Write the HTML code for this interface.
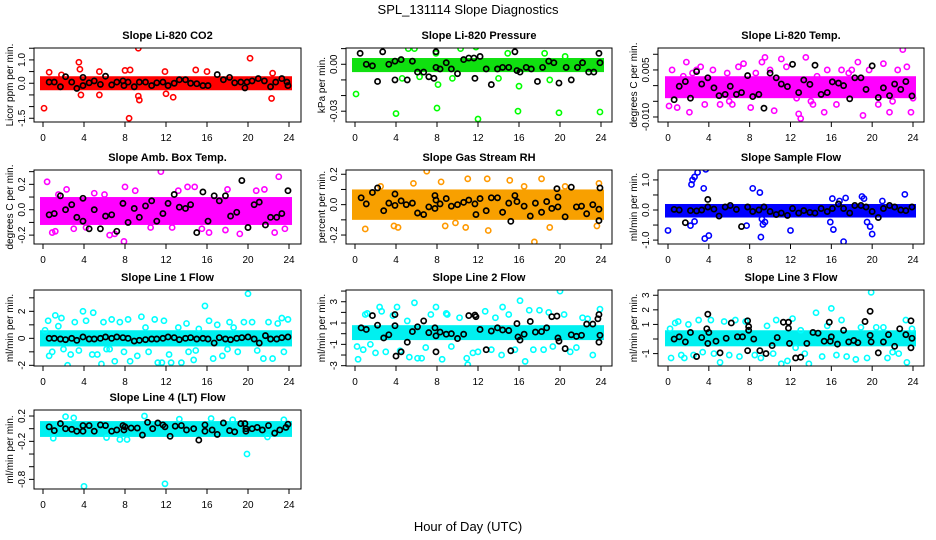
<!DOCTYPE html>
<html><head><meta charset="utf-8"><style>
html,body{margin:0;padding:0;background:#fff;}
svg{display:block;font-family:"Liberation Sans",sans-serif;}
</style></head><body>
<svg id="chart" width="936" height="540" viewBox="0 0 936 540">
<rect x="0" y="0" width="936" height="540" fill="#fff"/>
<text x="468" y="14" text-anchor="middle" font-size="13">SPL_131114  Slope Diagnostics</text>
<text x="468" y="531" text-anchor="middle" font-size="13">Hour of Day (UTC)</text>
</svg>
<script>
// ---------- data ----------
const xTicks = [0,4,8,12,16,20,24];
const co2Band = [-0.3, 0.3];
const co2Outliers = [[0.1,-1.07],[0.6,0.47],[3.5,0.9],[3.6,0.6],[5.5,0.5],[5.5,-0.5],[8.0,0.55],[8.5,0.57],[8.4,-1.5],[9.3,1.5],[9.3,-0.55],[9.4,-0.72],[12.0,-0.45],[12.7,-0.6],[14.9,0.57],[20.2,1.07],[22.3,-0.65],[22.4,0.43],[1.8,0.36],[3.7,-0.5],[11.9,0.5],[16.0,0.5]];
const co2Black = [[0.6,0.05],[1.1,0.05],[1.7,-0.15],[2.2,0.28],[2.8,0.05],[3.3,-0.22],[3.9,0.25],[3.9,-0.1],[4.5,0.02],[5.0,0.1],[5.6,-0.05],[6.1,0.3],[6.7,-0.07],[7.2,0.05],[7.8,0.1],[7.9,-0.1],[8.3,0.05],[8.9,-0.15],[9.4,0.05],[10.0,0.05],[10.6,-0.1],[11.1,0.02],[11.7,0.05],[12.2,-0.1],[12.8,0.0],[13.3,0.15],[13.9,0.15],[14.4,0.0],[15.0,-0.02],[15.6,-0.1],[16.1,-0.1],[17.0,0.37],[17.6,0.15],[18.2,0.25],[18.7,0.02],[19.3,0.05],[19.7,-0.2],[19.9,0.05],[20.4,0.1],[21.0,0.2],[21.6,0.1],[22.2,-0.15],[22.7,0.05],[23.3,0.2],[23.9,-0.1],[23.8,0.05]];

const presBand = [-0.005, 0.004];
const presOutliers = [[0.1,-0.019],[4.0,-0.0315],[8.0,-0.028],[8.1,-0.013],[12.0,-0.035],[15.9,-0.030],[16.0,-0.014],[19.9,-0.031],[23.9,-0.0305],[5.2,0.01],[5.8,0.01],[10.3,0.01],[11.8,0.011],[7.9,0.007],[14.9,0.007],[18.5,0.007],[20.5,0.005],[9.5,-0.009],[4.6,-0.009],[6.3,-0.008],[19.0,-0.01],[14.0,-0.009]];
const presBlack = [[0.5,0.007],[1.1,0.0],[1.7,-0.001],[2.2,-0.011],[2.7,0.008],[3.3,0.0],[3.9,-0.010],[3.9,0.002],[4.5,0.003],[5.1,-0.010],[5.6,0.002],[6.1,-0.005],[6.7,-0.005],[7.2,-0.008],[7.7,-0.009],[7.9,0.008],[7.9,-0.002],[8.3,-0.003],[8.9,0.001],[9.4,-0.003],[10.0,-0.006],[10.6,0.003],[11.1,0.004],[11.6,0.004],[11.7,-0.009],[12.2,0.005],[12.8,-0.003],[13.3,-0.013],[13.9,-0.003],[14.4,-0.002],[15.0,-0.002],[15.6,0.008],[15.8,-0.004],[16.1,-0.005],[16.7,-0.002],[17.2,-0.003],[17.8,-0.011],[18.3,-0.002],[18.9,0.002],[19.4,0.001],[19.9,-0.012],[20.6,-0.002],[21.1,-0.010],[21.7,-0.002],[22.2,0.001],[22.8,-0.005],[23.3,-0.005],[23.8,0.007],[23.9,0.001]];

const tempBand = [-0.004, 0.003];
const tempOutliers = [[0.1,-0.0065],[0.4,0.005],[0.9,-0.007],[1.5,0.003],[1.8,0.0075],[2.1,-0.0085],[2.8,0.005],[3.2,0.006],[3.6,-0.006],[4.4,0.005],[5.1,-0.006],[5.8,0.004],[6.3,-0.006],[6.9,0.006],[7.4,0.007],[8.1,-0.007],[8.6,0.004],[9.2,0.0075],[9.5,0.009],[10.4,-0.008],[11.1,0.0085],[11.6,0.006],[12.6,-0.004],[12.8,-0.009],[13.0,-0.0105],[13.5,0.009],[14.2,-0.006],[14.6,0.003],[15.3,-0.0085],[15.6,0.005],[16.5,-0.006],[17.0,0.005],[17.7,0.004],[18.6,0.0075],[19.1,-0.0095],[19.7,0.005],[20.6,-0.006],[21.1,0.007],[21.7,-0.0085],[22.5,0.005],[23.0,0.0115],[23.4,0.006],[23.8,-0.0085],[24.0,-0.004],[2.4,0.004],[6.0,-0.005],[10.0,0.005],[14.0,-0.005],[18.0,0.005],[22.0,-0.005]];
const tempBlack = [[0.6,-0.0045],[1.1,-0.0002],[1.7,0.0013],[2.2,-0.004],[2.8,0.0045],[3.3,0.0005],[3.9,0.0025],[4.5,-0.0007],[5.0,-0.0032],[5.6,-0.0028],[6.1,-0.0002],[6.7,-0.0028],[7.2,-0.0022],[7.8,0.0032],[8.3,-0.0035],[8.9,-0.0028],[9.4,-0.0072],[10.0,0.004],[10.6,0.0025],[11.1,0.0005],[11.7,-0.0003],[12.2,0.0068],[12.8,-0.0022],[13.3,0.0018],[13.9,0.0004],[14.4,0.0065],[15.0,-0.0028],[15.6,-0.0022],[16.1,0.0012],[16.7,0.0008],[17.2,0.0],[17.8,-0.0042],[18.3,0.0025],[18.9,0.0025],[19.4,-0.0012],[20.0,0.0063],[20.6,-0.0038],[21.1,-0.0007],[21.7,-0.0032],[22.2,0.0005],[22.8,-0.0012],[23.3,0.0013],[23.9,-0.0033]];

const ambBand = [-0.12, 0.1];
const ambOutliers = [[0.4,0.22],[0.9,-0.18],[1.2,-0.17],[11.5,0.3],[23.0,0.26],[7.9,-0.25],[6.5,-0.2],[7.0,-0.19],[14.1,0.18],[14.8,0.18],[19.2,-0.19],[16.2,-0.18],[13.2,0.15],[3.0,-0.15],[9.0,0.15],[10.5,-0.14],[18.0,0.16],[21.6,0.16],[22.6,-0.18],[20.8,0.15],[5.0,0.13],[12.6,-0.14],[17.8,-0.16],[2.3,0.16],[8.0,0.18],[1.5,0.12],[4.2,-0.14],[6.0,0.12],[15.5,-0.15],[23.6,-0.15]];
const ambBlack = [[0.6,-0.04],[1.1,-0.03],[1.7,0.11],[2.2,0.0],[2.8,0.04],[3.3,-0.06],[3.9,0.09],[3.9,-0.09],[4.5,-0.15],[5.0,0.0],[5.6,-0.15],[6.1,-0.05],[6.7,-0.04],[7.2,-0.17],[7.8,0.05],[8.3,-0.1],[8.9,0.01],[9.4,-0.06],[10.0,0.03],[10.6,0.07],[11.1,-0.09],[11.7,-0.03],[12.2,0.05],[12.8,0.12],[13.3,0.02],[13.9,0.01],[14.4,0.04],[15.0,-0.18],[15.6,0.14],[16.1,-0.09],[16.7,0.11],[17.2,0.07],[17.8,0.11],[18.3,-0.05],[18.9,-0.02],[19.4,0.23],[20.0,-0.14],[20.6,0.04],[21.1,0.06],[21.7,-0.12],[22.2,-0.06],[22.8,-0.06],[23.3,-0.03],[23.9,0.15]];

const rhBand = [-0.1, 0.1];
const rhOutliers = [[7.0,0.22],[17.5,-0.245],[13.0,-0.17],[1.0,-0.16],[3.8,-0.14],[4.2,-0.15],[8.8,-0.14],[19.0,-0.15],[23.6,-0.14],[11.0,0.17],[12.9,0.17],[15.1,0.16],[18.2,0.17],[8.4,0.15],[23.8,0.14],[5.7,0.14],[9.8,-0.12],[10.8,-0.15],[2.5,0.12],[16.5,0.12],[20.5,0.12]];
const rhBlack = [[0.6,0.045],[1.1,0.005],[1.7,0.08],[2.2,0.11],[2.8,-0.04],[3.3,0.01],[3.9,0.07],[3.9,-0.005],[4.5,0.025],[5.0,0.0],[5.6,0.01],[6.1,-0.055],[6.7,-0.065],[7.2,-0.015],[7.8,0.06],[7.9,0.03],[7.8,-0.025],[8.3,0.005],[8.9,0.04],[9.4,-0.01],[10.0,0.0],[10.6,0.015],[11.1,0.03],[11.7,0.005],[11.8,-0.065],[12.2,0.04],[12.8,-0.04],[13.3,0.045],[13.9,0.045],[14.4,-0.05],[15.0,0.01],[15.2,-0.11],[15.6,0.06],[15.8,0.02],[16.5,-0.01],[17.1,-0.075],[17.6,0.01],[18.2,-0.05],[18.7,0.02],[19.2,-0.025],[19.7,0.105],[19.8,0.05],[19.8,-0.015],[20.5,-0.08],[21.1,0.115],[21.6,-0.015],[22.1,-0.01],[22.6,-0.06],[23.2,0.0],[23.8,-0.03],[23.8,-0.105],[23.9,0.11]];

const flowBand = [-0.25, 0.2];
const flowOutliers = [[0.0,-0.68],[2.3,0.85],[2.4,1.0],[2.6,1.1],[2.9,1.25],[3.7,1.35],[3.5,0.72],[3.6,-0.95],[4.0,-0.85],[2.2,-0.52],[2.6,-0.38],[8.3,0.72],[7.7,-0.52],[9.0,0.58],[9.1,-0.9],[9.3,-0.48],[9.5,-0.4],[9.2,-0.3],[12.0,-0.68],[15.9,-0.4],[16.1,0.38],[16.2,-0.65],[17.2,-1.05],[17.4,0.4],[19.0,0.45],[19.2,0.38],[19.5,-0.4],[19.8,-0.55],[20.0,-0.8],[23.2,0.52],[21.0,0.3],[16.8,0.3]];
const flowBlack = [[0.6,0.02],[1.1,0.0],[1.7,-0.42],[2.2,-0.02],[2.8,-0.03],[3.3,0.0],[3.9,0.35],[3.9,0.1],[4.5,0.03],[5.0,-0.2],[5.6,0.1],[6.1,0.15],[6.7,0.02],[7.2,-0.55],[7.8,0.1],[8.3,-0.05],[8.9,0.0],[9.4,0.1],[10.0,-0.05],[10.6,-0.15],[11.1,-0.1],[11.7,-0.18],[12.2,0.05],[12.8,-0.1],[13.3,-0.02],[13.9,-0.08],[14.4,-0.1],[15.0,0.05],[15.6,-0.05],[16.1,0.05],[16.7,0.2],[17.2,0.05],[17.8,-0.1],[18.3,0.15],[18.9,0.15],[19.4,0.1],[20.0,-0.05],[20.6,-0.25],[21.1,0.05],[21.7,0.15],[22.2,0.1],[22.8,0.0],[23.3,-0.02],[23.9,0.1]];

const line1Band = [-0.6, 0.6];
const line1Outliers = [[0.2,0.6],[0.5,1.3],[0.6,-1.3],[0.9,-1.0],[1.2,1.7],[1.8,1.5],[2.0,-0.8],[2.4,-2.0],[2.7,-1.2],[3.1,1.2],[3.5,-0.9],[3.9,2.0],[4.2,1.3],[4.8,-1.2],[4.9,1.9],[5.3,-1.2],[5.7,-1.9],[5.9,1.2],[6.5,-0.8],[6.7,1.4],[7.0,-1.7],[7.5,1.2],[7.9,-1.0],[8.3,1.4],[8.5,-1.7],[9.2,-1.3],[9.6,1.6],[10.3,-1.0],[10.9,1.4],[11.2,-1.8],[11.6,-1.8],[11.8,1.3],[12.3,-1.2],[12.5,-1.8],[13.2,0.8],[13.5,-1.8],[14.0,1.1],[14.2,-1.0],[14.7,-1.6],[15.2,0.7],[15.8,2.4],[16.2,1.3],[16.6,-1.5],[17.0,1.0],[17.5,-1.3],[18.2,1.2],[18.6,0.8],[19.0,-1.0],[19.6,1.2],[20.0,3.3],[20.4,1.2],[20.9,-0.9],[21.5,-1.5],[22.0,1.2],[22.4,-1.5],[22.9,1.1],[23.3,1.5],[23.5,-1.0],[23.9,1.4],[1.5,0.9],[6.2,-0.8],[10.0,0.8],[14.9,-0.9],[18.0,-0.8]];
const line1Black = [[0.6,0],[1.1,0],[1.7,-0.05],[2.2,-0.1],[2.8,0],[3.3,-0.15],[3.9,0.1],[4.5,-0.05],[5.0,-0.05],[5.6,0],[6.1,0.1],[6.7,0],[7.2,0.1],[7.8,0.05],[8.3,0],[8.9,-0.2],[9.4,-0.15],[10.0,-0.1],[10.6,-0.05],[11.1,-0.05],[11.7,0],[12.2,0.1],[12.8,0.05],[13.3,-0.1],[13.9,0],[14.4,0.05],[15.0,-0.05],[15.6,0],[16.1,-0.05],[16.7,-0.35],[17.2,0.05],[17.8,-0.05],[18.3,-0.1],[18.9,0],[19.4,0.05],[20.0,0.1],[20.6,-0.05],[21.1,-0.35],[21.7,0.2],[22.2,-0.05],[22.8,-0.05],[23.3,0.05],[23.9,0.1]];

const line2Band = [-0.6, 0.8];
const line2Outliers = [[0.3,-2.4],[0.2,-1.2],[0.8,-1.5],[1.0,1.8],[1.5,-1.0],[2.0,-1.8],[2.4,2.5],[2.6,2.1],[3.0,-1.7],[3.7,1.7],[4.1,2.5],[4.4,-1.6],[5.1,1.2],[5.3,-2.2],[5.8,2.9],[6.1,-2.3],[6.5,-2.3],[6.9,-1.3],[7.4,1.8],[7.9,2.5],[8.5,-2.4],[8.9,1.9],[9.4,-1.2],[10.2,1.5],[10.9,-2.3],[11.0,-2.9],[11.5,-1.8],[12.0,-1.7],[12.7,2.1],[13.3,-1.5],[13.7,1.5],[14.3,-2.0],[14.4,2.5],[15.0,1.8],[15.6,-1.5],[16.1,3.1],[16.6,-2.6],[17.0,2.2],[17.4,-1.5],[18.0,2.2],[18.4,-1.5],[18.9,2.0],[19.3,-1.2],[20.0,4.0],[20.4,1.8],[21.0,-1.7],[21.6,-1.3],[22.2,1.5],[22.7,1.4],[23.2,-2.0],[23.9,2.3],[1.2,1.9],[9.0,1.8]];
const line2Black = [[0.6,0.55],[1.1,0.4],[1.7,1.7],[2.2,0.8],[2.8,-0.4],[3.3,-0.1],[3.9,1.8],[3.9,0.75],[4.0,-2.1],[4.5,-1.7],[5.1,-0.8],[5.6,0.2],[6.1,0.65],[6.7,1.2],[7.2,0.1],[7.8,0.55],[7.9,-0.2],[7.9,-1.7],[8.3,0.15],[8.9,-0.05],[9.4,0.0],[10.0,-0.45],[10.6,-0.05],[11.1,1.7],[11.7,1.75],[11.8,1.6],[12.2,0.4],[12.8,-1.5],[13.3,0.25],[13.9,0.55],[14.4,0.35],[15.0,0.3],[15.2,-1.6],[15.8,0.95],[15.9,-0.3],[16.1,-0.6],[16.5,-0.05],[17.1,1.15],[17.6,0.15],[18.2,0.2],[18.7,0.55],[19.2,1.6],[19.7,1.65],[19.8,-0.4],[19.9,-0.7],[20.5,-1.4],[21.1,-0.1],[21.6,-0.25],[22.1,-0.15],[22.6,0.9],[23.2,0.9],[23.7,1.4],[23.8,1.8],[23.8,-0.8],[23.9,-0.15]];

const line3Band = [-0.5, 0.6];
const line3Outliers = [[0.2,0.7],[0.3,-1.3],[0.7,1.1],[1.0,1.2],[1.3,-1.1],[1.6,-1.3],[2.0,1.0],[2.5,-1.1],[3.0,1.3],[3.4,-0.9],[4.2,1.3],[4.5,-1.0],[5.1,-1.6],[5.5,1.2],[6.0,-1.1],[6.6,1.3],[7.0,-1.2],[7.6,1.2],[8.5,-1.1],[9.1,-1.3],[9.7,0.9],[10.3,-1.0],[10.6,1.3],[11.1,-1.7],[11.7,-1.5],[12.2,1.4],[12.5,-0.6],[13.0,0.6],[13.4,-1.0],[13.8,-1.7],[14.5,1.8],[15.1,-1.2],[15.6,0.9],[16.0,2.1],[16.5,-1.1],[17.0,1.3],[17.5,-1.2],[18.4,-1.4],[18.9,0.8],[19.5,-1.3],[19.9,3.2],[20.4,0.8],[21.1,0.8],[21.5,-1.3],[22.0,-0.9],[22.6,-1.0],[23.3,1.3],[23.4,-1.6],[23.9,0.7],[3.9,-0.3]];
const line3Black = [[0.6,0.0],[1.1,0.15],[1.7,-0.2],[2.2,0.45],[2.8,-1.2],[3.3,0.1],[3.9,1.7],[3.8,0.7],[3.9,-0.3],[4.0,0.45],[4.7,-0.15],[5.1,-0.95],[5.7,0.05],[6.2,1.1],[6.8,0.15],[7.3,0.15],[7.8,1.25],[7.9,0.85],[7.9,0.6],[7.8,-0.8],[8.4,0.0],[9.0,-0.8],[9.6,-1.0],[10.2,-0.45],[10.7,0.1],[11.3,1.15],[11.8,1.15],[11.8,0.75],[11.9,-0.3],[12.5,-1.3],[13.0,-1.25],[13.6,-0.3],[14.2,0.45],[14.7,0.4],[15.3,-0.15],[15.8,1.15],[15.9,-0.15],[16.0,0.15],[16.6,-0.35],[17.2,0.6],[17.7,-0.2],[18.2,-0.1],[18.6,-0.25],[19.3,1.2],[19.8,1.9],[19.8,0.25],[19.9,-0.2],[20.6,-0.95],[21.1,-0.2],[21.6,0.3],[22.2,-0.5],[22.7,0.7],[23.3,0.3],[23.8,1.25],[23.9,0.05],[23.8,-0.6]];

const line4Band = [-0.13, 0.12];
const line4Outliers = [[4.0,-0.91],[11.9,-0.87],[19.9,-0.4],[9.9,0.2],[2.2,0.19],[3.0,0.17],[1.0,-0.15],[7.5,-0.17],[16.4,0.16],[6.2,-0.14],[13.3,0.15],[21.9,-0.13],[18.5,0.14],[23.5,0.14],[8.2,-0.17]];
const line4Black = [[0.6,0.03],[1.1,-0.03],[1.7,0.08],[2.2,0.0],[2.8,-0.01],[3.3,-0.04],[3.9,0.05],[3.9,-0.04],[4.5,0.05],[5.0,-0.04],[5.6,0.06],[6.1,0.05],[6.7,-0.04],[7.2,-0.02],[7.8,0.05],[8.0,0.03],[7.9,-0.02],[8.6,0.01],[9.2,0.01],[9.7,-0.1],[10.2,0.1],[10.7,0.0],[11.2,0.09],[11.7,0.06],[11.9,0.03],[12.4,-0.12],[12.9,0.04],[13.5,0.05],[14.0,-0.02],[14.7,0.0],[15.2,-0.18],[15.8,0.06],[15.8,-0.04],[16.5,-0.02],[17.0,-0.09],[17.6,0.09],[18.2,-0.03],[18.7,-0.05],[19.3,0.08],[19.7,0.08],[19.8,0.0],[19.8,-0.04],[20.4,0.0],[20.9,0.02],[21.4,-0.02],[22.0,0.05],[22.6,-0.07],[23.1,-0.02],[23.7,0.02],[23.9,0.07]];

// y tick values and labels per panel
const co2YTicks = [-1.5,-1,-0.5,0,0.5,1,1.5];   const co2YLabels = ["-1.5","","","0.0","","1.0",""];
const presYTicks = [-0.03,-0.02,-0.01,0,0.01];  const presYLabels = ["-0.03","","","0.00",""];
const tempYTicks = [-0.01,-0.005,0,0.005,0.01]; const tempYLabels = ["-0.010","","","0.005",""];
const ambYTicks = [-0.2,-0.1,0,0.1,0.2,0.3];    const ambYLabels = ["-0.2","","0.0","","0.2",""];
const rhYTicks = [-0.2,-0.1,0,0.1,0.2];         const rhYLabels = ["-0.2","","0.0","","0.2"];
const flowYTicks = [-1,-0.5,0,0.5,1];           const flowYLabels = ["-1.0","","0.0","","1.0"];
const line1YTicks = [-2,-1,0,1,2,3];            const line1YLabels = ["-2","","0","","2",""];
const line2YTicks = [-3,-2,-1,0,1,2,3,4];       const line2YLabels = ["-3","","-1","","1","","3",""];
const line3YTicks = [-1,0,1,2,3];               const line3YLabels = ["-1","","1","2","3"];
const line4YTicks = [-0.8,-0.6,-0.4,-0.2,0,0.2];const line4YLabels = ["-0.8","","","-0.2","","0.2"];

// ---------- layout ----------
const svg = document.getElementById('chart');
const NS = 'http://www.w3.org/2000/svg';
const cols = [{l:34,r:301,x0:43,x24:289},{l:346,r:612,x0:355,x24:601},{l:658,r:924,x0:668,x24:913}];
const rows = [{t:48,b:122},{t:170,b:244},{t:290,b:366},{t:410,b:489}];

const panels = [
 {key:'co2',title:'Slope Li-820 CO2',ytitle:'Licor ppm per min.',c:0,r:0,ymin:-1.66,ymax:1.51,color:'#ff0000',bandColor:'#ff0000',band:co2Band,out:co2Outliers,blk:co2Black,yt:co2YTicks,yl:co2YLabels},
 {key:'pressure',title:'Slope Li-820 Pressure',ytitle:'kPa per min.',c:1,r:0,ymin:-0.0369,ymax:0.0104,color:'#00ff00',bandColor:'#10e010',band:presBand,out:presOutliers,blk:presBlack,yt:presYTicks,yl:presYLabels},
 {key:'temp',title:'Slope Li-820 Temp.',ytitle:'degrees C per min.',c:2,r:0,ymin:-0.0116,ymax:0.012,color:'#ff00ff',bandColor:'#ff00ff',band:tempBand,out:tempOutliers,blk:tempBlack,yt:tempYTicks,yl:tempYLabels},
 {key:'amb',title:'Slope Amb. Box Temp.',ytitle:'degrees C per min.',c:0,r:1,ymin:-0.27,ymax:0.313,color:'#ff00ff',bandColor:'#ff00ff',band:ambBand,out:ambOutliers,blk:ambBlack,yt:ambYTicks,yl:ambYLabels},
 {key:'rh',title:'Slope Gas Stream RH',ytitle:'percent per min.',c:1,r:1,ymin:-0.259,ymax:0.228,color:'#ff9900',bandColor:'#f8a000',band:rhBand,out:rhOutliers,blk:rhBlack,yt:rhYTicks,yl:rhYLabels},
 {key:'flow',title:'Slope Sample Flow',ytitle:'ml/min per min.',c:2,r:1,ymin:-1.13,ymax:1.33,color:'#0000ff',bandColor:'#0000ff',band:flowBand,out:flowOutliers,blk:flowBlack,yt:flowYTicks,yl:flowYLabels},
 {key:'line1',title:'Slope Line 1 Flow',ytitle:'ml/min per min.',c:0,r:2,ymin:-2.05,ymax:3.58,color:'#00ffff',bandColor:'#00f0f0',band:line1Band,out:line1Outliers,blk:line1Black,yt:line1YTicks,yl:line1YLabels},
 {key:'line2',title:'Slope Line 2 Flow',ytitle:'ml/min per min.',c:1,r:2,ymin:-3.03,ymax:4.1,color:'#00ffff',bandColor:'#00f0f0',band:line2Band,out:line2Outliers,blk:line2Black,yt:line2YTicks,yl:line2YLabels},
 {key:'line3',title:'Slope Line 3 Flow',ytitle:'ml/min per min.',c:2,r:2,ymin:-1.85,ymax:3.36,color:'#00ffff',bandColor:'#00f0f0',band:line3Band,out:line3Outliers,blk:line3Black,yt:line3YTicks,yl:line3YLabels},
 {key:'line4',title:'Slope Line 4 (LT) Flow',ytitle:'ml/min per min.',c:0,r:3,ymin:-0.952,ymax:0.295,color:'#00ffff',bandColor:'#00f0f0',band:line4Band,out:line4Outliers,blk:line4Black,yt:line4YTicks,yl:line4YLabels}
];

function mk(tag, attrs, parent){
  const e = document.createElementNS(NS, tag);
  for (const k in attrs) e.setAttribute(k, attrs[k]);
  (parent||svg).appendChild(e);
  return e;
}

panels.forEach(p => {
  const col = cols[p.c], row = rows[p.r];
  const xs = t => col.x0 + (t/24)*(col.x24-col.x0);
  const ys = v => row.b - (v - p.ymin)/(p.ymax - p.ymin)*(row.b - row.t);
  const g = mk('g', {});
  
  

  // clip
  const cp = mk('clipPath', {id:'clip-'+p.key}, g);
  mk('rect', {x:col.l, y:row.t, width:col.r-col.l, height:row.b-row.t}, cp);
  const plot = mk('g', {'clip-path':'url(#clip-'+p.key+')'}, g);

  // dense band
  const band = mk('rect', {x:xs(0)-3, y:ys(p.band[1]), width:xs(24)-xs(0)+6, height:ys(p.band[0])-ys(p.band[1]), fill:p.bandColor}, plot);
  
  

  p.out.forEach(d => {
    const c = mk('circle', {cx:xs(d[0]), cy:ys(d[1]), r:2.6, fill:'none', stroke:p.color, 'stroke-width':1.6}, plot);
    
    
  });
  p.blk.forEach(d => {
    const c = mk('circle', {cx:xs(d[0]), cy:ys(d[1]), r:2.6, fill:'none', stroke:'#000', 'stroke-width':1.7}, plot);
    
    
  });

  // box
  const box = mk('rect', {x:col.l, y:row.t, width:col.r-col.l, height:row.b-row.t, fill:'none', stroke:'#000', 'stroke-width':1}, g);
  
  

  // x ticks
  xTicks.forEach(t => {
    mk('line', {x1:xs(t), x2:xs(t), y1:row.b, y2:row.b+5, stroke:'#000'}, g);
    const tx = mk('text', {x:xs(t), y:row.b+19, 'text-anchor':'middle', 'font-size':10}, g);
    tx.textContent = String(t);
    
    
  });
  // y ticks
  p.yt.forEach((v,i) => {
    const y = ys(v);
    mk('line', {x1:col.l-5, x2:col.l, y1:y, y2:y, stroke:'#000'}, g);
    if (p.yl[i]) {
      const tx = mk('text', {x:col.l-9, y:y, 'text-anchor':'middle', 'font-size':10, transform:'rotate(-90 '+(col.l-9)+' '+y+')'}, g);
      tx.textContent = p.yl[i];
      
      
    }
  });
  // titles
  const tt = mk('text', {x:(col.l+col.r)/2, y:row.t-9, 'text-anchor':'middle', 'font-size':11, 'font-weight':'bold'}, g);
  tt.textContent = p.title;
  
  
  const cy = (row.t+row.b)/2, tx0 = col.l-21;
  const yt = mk('text', {x:tx0, y:cy, 'text-anchor':'middle', 'font-size':10, transform:'rotate(-90 '+tx0+' '+cy+')'}, g);
  yt.textContent = p.ytitle;
  
  
});
</script>
</body></html>
